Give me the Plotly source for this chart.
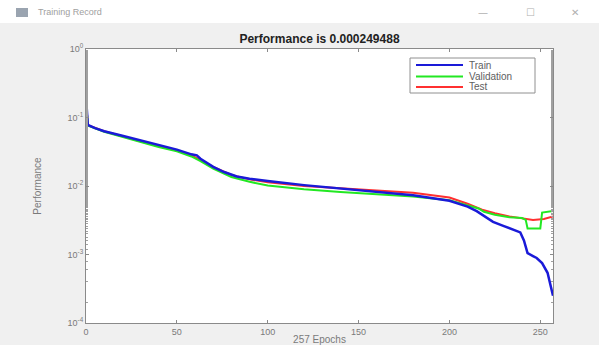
import plotly.graph_objects as go

# ---- data ----
train_epochs = [0, 1, 5, 10, 20, 30, 40, 50, 58, 61, 63, 66, 70, 76, 83, 90, 100, 120, 140, 160, 180,
                200, 210, 215, 220, 224, 230, 235, 239, 241, 243, 246, 248, 251, 254, 257]
train_perf = [0.20, 0.078, 0.070, 0.063, 0.054, 0.046, 0.039, 0.034, 0.029, 0.028, 0.025, 0.022, 0.019,
              0.016, 0.0138, 0.0128, 0.0118, 0.0103, 0.0092, 0.0083, 0.0073, 0.0061, 0.0050, 0.0043,
              0.0035, 0.0030, 0.0026, 0.0023, 0.0021, 0.0016, 0.00105, 0.00095, 0.00089, 0.00075,
              0.00054, 0.00025]

val_epochs = [0, 1, 10, 20, 30, 40, 50, 58, 63, 70, 80, 90, 100, 120, 140, 160, 180, 200, 210, 216,
              219, 225, 233, 240, 242, 243, 250, 251, 257]
val_perf = [0.18, 0.076, 0.062, 0.052, 0.044, 0.037, 0.032, 0.027, 0.023, 0.018, 0.0135, 0.0115, 0.0102,
            0.0090, 0.0082, 0.0076, 0.0070, 0.0062, 0.0052, 0.0047, 0.0042, 0.0038, 0.0035, 0.0034,
            0.0032, 0.0024, 0.0024, 0.0041, 0.0043]

test_epochs = [0, 1, 10, 20, 30, 40, 50, 58, 63, 70, 80, 90, 100, 120, 140, 160, 180, 200, 210, 218,
               225, 233, 240, 246, 252, 257]
test_perf = [0.18, 0.077, 0.063, 0.053, 0.045, 0.038, 0.033, 0.028, 0.024, 0.019, 0.0145, 0.0125, 0.0113,
             0.0100, 0.0093, 0.0087, 0.0080, 0.0068, 0.0055, 0.0045, 0.0040, 0.0036, 0.0034, 0.0032,
             0.0033, 0.0036]

series_names = ["Train", "Validation", "Test"]
series_colors = ["#1a1ad8", "#22e822", "#ff3030"]

x_ticks = [0, 50, 100, 150, 200, 250]
y_tickvals = [1, 0.1, 0.01, 0.001, 0.0001]
y_ticktext = ["10<sup>0</sup>", "10<sup>-1</sup>", "10<sup>-2</sup>", "10<sup>-3</sup>", "10<sup>-4</sup>"]

title_text = "Performance is 0.000249488"
window_title = "Training Record"

W, H = 599, 345
L, R, T, B = 86, 46, 49, 22
ph = H - T - B
pw = W - L - R

def py(px):
    return 1 - (px - T) / ph

def pxx(px):
    return (px - L) / pw

fig = go.Figure()
fig.add_trace(go.Scatter(x=test_epochs, y=test_perf, mode="lines", name=series_names[2],
                         line=dict(color=series_colors[2], width=2), showlegend=False))
fig.add_trace(go.Scatter(x=val_epochs, y=val_perf, mode="lines", name=series_names[1],
                         line=dict(color=series_colors[1], width=2), showlegend=False))
fig.add_trace(go.Scatter(x=train_epochs, y=train_perf, mode="lines", name=series_names[0],
                         line=dict(color=series_colors[0], width=2.5), showlegend=False,
                         cliponaxis=False))

axis_color = "#8a8a8a"
font_fam = "Liberation Sans, Arial"
tick_font = dict(family=font_fam, size=9, color="#7a7a7a")

fig.update_layout(
    width=W, height=H,
    margin=dict(l=L, r=R, t=T, b=B, autoexpand=False),
    paper_bgcolor="#f0f0f0",
    plot_bgcolor="white",
    showlegend=False,
    title=dict(text="<b>" + title_text + "</b>", x=0.5 * (86 + 553) / W, xanchor="center",
               y=1 - 39 / H, yanchor="middle",
               font=dict(family=font_fam, size=12, color="#222222")),
    xaxis=dict(range=[0, 257], tickvals=x_ticks, ticks="inside", ticklen=3, automargin=False,
               showline=True, linecolor=axis_color, linewidth=1, mirror="ticks",
               tickcolor=axis_color, showgrid=False, zeroline=False, tickfont=tick_font,
               title=dict(text="257 Epochs", standoff=5,
                          font=dict(family=font_fam, size=10, color="#7a7a7a"))),
    yaxis=dict(type="log", range=[-4, 0], tickvals=y_tickvals, ticktext=y_ticktext,
               ticks="inside", ticklen=3, showline=True, linecolor=axis_color, linewidth=1,
               mirror="ticks", tickcolor=axis_color, showgrid=False, zeroline=False,
               tickfont=tick_font, automargin=False,
               minor=dict(ticks="inside", ticklen=2, tickcolor="#a0a0a0", showgrid=False),
               title=dict(text="Performance", standoff=24,
                          font=dict(family=font_fam, size=10, color="#7a7a7a"))),
)

# legend drawn as a MATLAB-style compact box
lx0, lx1, ly0, ly1 = 410, 535, 58, 93
fig.add_shape(type="rect", xref="paper", yref="paper",
              x0=pxx(lx0), x1=pxx(lx1), y0=py(ly1), y1=py(ly0),
              fillcolor="white", line=dict(color="#909090", width=1))
row_y = [65, 76.5, 87]
for name, col, ry in zip(series_names, series_colors, row_y):
    fig.add_shape(type="line", xref="paper", yref="paper",
                  x0=pxx(416), x1=pxx(463), y0=py(ry), y1=py(ry),
                  line=dict(color=col, width=2))
    fig.add_annotation(text=name, xref="paper", yref="paper", x=pxx(467), y=py(ry),
                       xanchor="left", yanchor="middle", showarrow=False,
                       font=dict(family=font_fam, size=10, color="#606060"))

# window title bar
fig.add_shape(type="rect", xref="paper", yref="paper",
              x0=pxx(0), x1=pxx(W), y0=py(23), y1=py(0),
              fillcolor="white", line=dict(width=0), layer="below")
fig.add_shape(type="rect", xref="paper", yref="paper",
              x0=pxx(16), x1=pxx(28), y0=py(17), y1=py(8),
              fillcolor="#9aa4b0", line=dict(width=0))
fig.add_annotation(text=window_title, xref="paper", yref="paper", x=pxx(36), y=py(12),
                   xanchor="left", yanchor="middle", showarrow=False,
                   font=dict(family=font_fam, size=9, color="#a0a0a0"))
for gx, g in [(483, "—"), (530, "☐"), (575, "✕")]:
    fig.add_annotation(text=g, xref="paper", yref="paper", x=pxx(gx), y=py(12),
                       xanchor="center", yanchor="middle", showarrow=False,
                       font=dict(family="DejaVu Sans", size=10, color="#b0b0b0"))

fig.write_html("out.html")
